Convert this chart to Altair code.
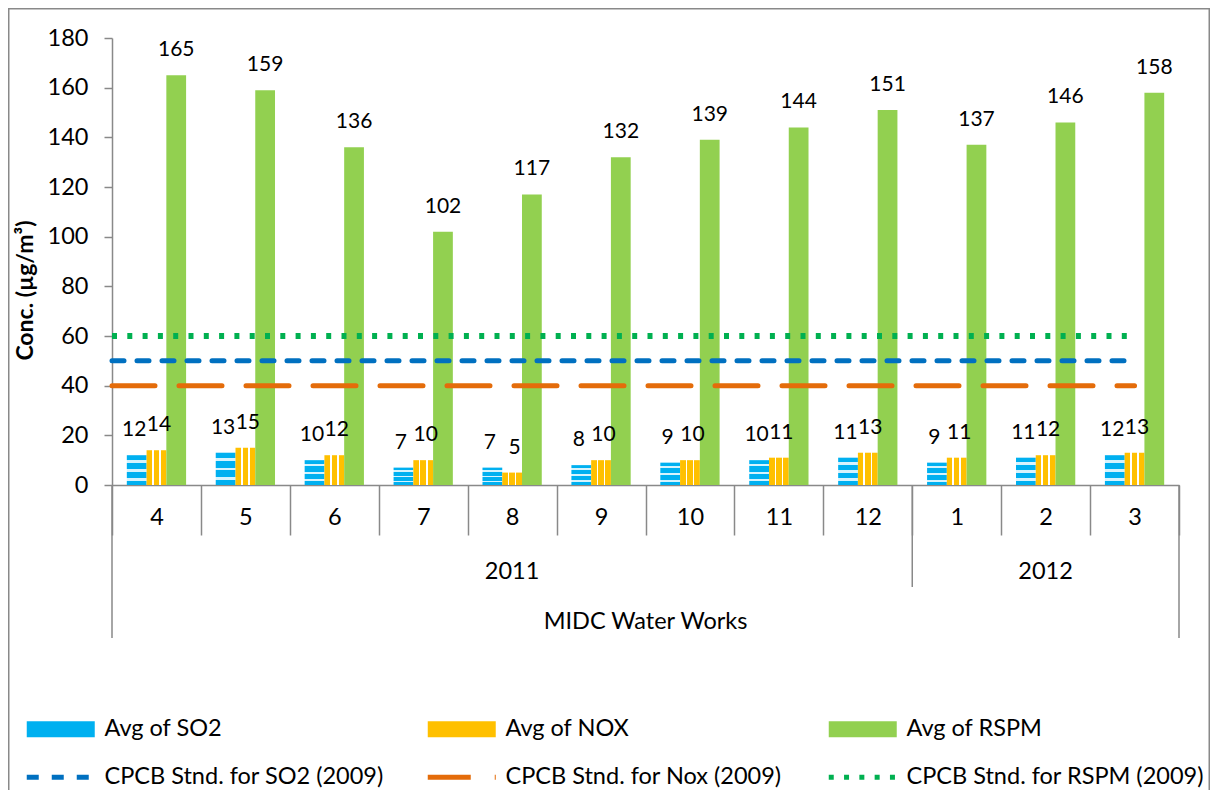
import altair as alt
import pandas as pd

# ---------------- data ----------------
months = ["4", "5", "6", "7", "8", "9", "10", "11", "12", "1", "2", "3"]
years = ["2011"] * 9 + ["2012"] * 3
site = "MIDC Water Works"
so2 = [12, 13, 10, 7, 7, 8, 9, 10, 11, 9, 11, 12]
nox = [14, 15, 12, 10, 5, 10, 10, 11, 13, 11, 12, 13]
rspm = [165, 159, 136, 102, 117, 132, 139, 144, 151, 137, 146, 158]
bar_names = ["Avg of SO2", "Avg of NOX", "Avg of RSPM"]
std_names = ["CPCB Stnd. for SO2 (2009)", "CPCB Stnd. for Nox (2009)", "CPCB Stnd. for RSPM (2009)"]
std_values = [50, 40, 60]
y_ticks = [0, 20, 40, 60, 80, 100, 120, 140, 160, 180]
y_title = "Conc. (µg/m³)"

# ---------------- styles ----------------
FONT = "Lato"
FS = 23.5
GRAY = "#898989"
bar_colors = ["#00B0F0", "#FFC000", "#92D050"]
std_colors = ["#0070C0", "#E46C0A", "#00B050"]
std_dashes = [[12, 13], [43, 24], [5, 10.3]]
label_nudge = [-2.5, 2.5, 0]
W, H = 1067, 447
PAD = {"left": 104, "top": 30, "right": 31, "bottom": 305}


def stripes(base, light, cuts, horizontal=True):
    stops, pos = [], 0.0
    for a, b in cuts:
        stops += [{"offset": pos, "color": base}, {"offset": a, "color": base},
                  {"offset": a, "color": light}, {"offset": b, "color": light}]
        pos = b
    stops += [{"offset": pos, "color": base}, {"offset": 1, "color": base}]
    return {"gradient": "linear", "x1": 0, "y1": 0,
            "x2": 1 if horizontal else 0, "y2": 0 if horizontal else 1, "stops": stops}


so2_bar = stripes(bar_colors[0], "#D6F3FD", [(0.16, 0.25), (0.46, 0.55), (0.76, 0.85)], horizontal=False)
nox_bar = stripes(bar_colors[1], "#FFFFFF", [(0.28, 0.36), (0.64, 0.72)])

# ---------------- tables ----------------
rows = []
for i, m in enumerate(months):
    for name, vals in zip(bar_names, [so2, nox, rspm]):
        rows.append({"month": m, "series": name, "value": vals[i]})
bar_df = pd.DataFrame(rows)

n = len(months)
std_df = pd.DataFrame({"label": std_names, "value": std_values,
                       "start": [0] * 3, "end": [n - 0.5] * 3})

spans = []
for yv in dict.fromkeys(years):
    idx = [i for i, v in enumerate(years) if v == yv]
    spans.append({"year": yv, "start": idx[0], "end": idx[-1] + 1,
                  "mid": (idx[0] + idx[-1] + 1) / 2})
span_df = pd.DataFrame(spans)
outer_df = pd.DataFrame({"pos": [0, n]})
inner_df = pd.DataFrame({"pos": [s["start"] for s in spans[1:]]})
site_df = pd.DataFrame({"site": [site], "mid": [n / 2]})
frame_df = pd.DataFrame({"frame": ["chart area"]})

# ---------------- legends ----------------
bar_legend = alt.Legend(
    title=None, orient="none", legendX=-89, legendY=679,
    direction="horizontal", columns=3, gridAlign="all", columnPadding=183,
    labelFont=FONT, labelFontSize=FS, labelColor="black", labelLimit=500,
    labelOffset=58, symbolSize=256, symbolType="M-1,-1H7.5V1H-1Z",
    symbolStrokeWidth=0, symbolOpacity=1,
)
line_legend = alt.Legend(
    title=None, orient="none", legendX=-89, legendY=727,
    direction="horizontal", columns=3, gridAlign="all", columnPadding=15,
    labelFont=FONT, labelFontSize=FS, labelColor="black", labelLimit=500,
    labelOffset=58, symbolSize=256, symbolType="M-1,0H7.5",
    symbolStrokeWidth=5, symbolOpacity=1,
)

# ---------------- encodings ----------------
y_enc = alt.Y("value:Q", scale=alt.Scale(domain=[0, 180], nice=False),
              axis=alt.Axis(values=y_ticks, title=y_title, grid=False, tickSize=8,
                            tickColor=GRAY, tickWidth=1.5, domainColor=GRAY, domainWidth=1.5,
                            labelFont=FONT, labelFontSize=FS, labelColor="black", labelPadding=16,
                            titleFont=FONT, titleFontSize=23, titleFontWeight="bold",
                            titleColor="black", titleX=-87, titleY=252,
                            titleBaseline="middle", titleAlign="center"))

x_band = alt.X("month:N", scale=alt.Scale(domain=months, paddingInner=0, paddingOuter=0),
               axis=alt.Axis(title=None, tickBand="extent", tickSize=50, tickColor=GRAY,
                             tickWidth=1.5, domainColor=GRAY, domainWidth=1.5, labelAngle=0,
                             labelFont=FONT, labelFontSize=FS, labelColor="black",
                             labelPadding=-30))
x_off = alt.XOffset("series:N", scale=alt.Scale(domain=bar_names, paddingInner=0, paddingOuter=0.75))

bars = alt.Chart(bar_df).mark_bar().encode(
    x=x_band, xOffset=x_off, y=y_enc,
    fill=alt.Fill("series:N", scale=alt.Scale(domain=bar_names, range=bar_colors), legend=bar_legend,
                  condition=[{"test": f"datum.series === '{bar_names[0]}'", "value": so2_bar},
                             {"test": f"datum.series === '{bar_names[1]}'", "value": nox_bar}]),
)
label_layers = [
    alt.Chart(bar_df).mark_text(font=FONT, fontSize=21, baseline="middle", dy=-25, dx=dx,
                                color="black").encode(
        x=x_band, xOffset=x_off, y=y_enc, text="value:Q",
    ).transform_filter(f"datum.series === '{name}'")
    for name, dx in zip(bar_names, label_nudge)
]

xq = alt.Scale(domain=[0, n], nice=False, zero=False)
std_stroke = alt.Stroke("label:N", scale=alt.Scale(domain=std_names, range=std_colors), legend=line_legend)
std_dash = alt.StrokeDash("label:N", scale=alt.Scale(domain=std_names, range=std_dashes), legend=line_legend)
std_round = alt.Chart(std_df).mark_rule(strokeCap="round", strokeWidth=5).encode(
    x=alt.X("start:Q", scale=xq, axis=None), x2="end:Q", y=y_enc,
    stroke=std_stroke, strokeDash=std_dash,
).transform_filter(f"datum.label !== '{std_names[2]}'")
std_dots = alt.Chart(std_df).mark_rule(strokeCap="butt", strokeWidth=6).encode(
    x=alt.X("start:Q", scale=xq, axis=None), x2="end:Q", y=y_enc,
    stroke=std_stroke, strokeDash=std_dash,
).transform_filter(f"datum.label === '{std_names[2]}'")

outer_rules = alt.Chart(outer_df).mark_rule(color=GRAY, strokeWidth=1.5).encode(
    x=alt.X("pos:Q", scale=xq, axis=None), y=alt.value(H), y2=alt.value(600))
inner_rules = alt.Chart(inner_df).mark_rule(color=GRAY, strokeWidth=1.5).encode(
    x=alt.X("pos:Q", scale=xq, axis=None), y=alt.value(H), y2=alt.value(549))
year_text = alt.Chart(span_df).mark_text(font=FONT, fontSize=FS, color="black", baseline="middle").encode(
    x=alt.X("mid:Q", scale=xq, axis=None), y=alt.value(534), text="year:N")
site_text = alt.Chart(site_df).mark_text(font=FONT, fontSize=FS, color="black", baseline="middle").encode(
    x=alt.X("mid:Q", scale=xq, axis=None), y=alt.value(584), text="site:N")

# chart-area frame (Excel style border around the whole chart)
frame = alt.Chart(frame_df).mark_rect(fill=None, stroke=GRAY, strokeWidth=1.5).encode(
    x=alt.value(-PAD["left"] + 0.75), x2=alt.value(W + PAD["right"] - 0.75),
    y=alt.value(-PAD["top"] + 0.75), y2=alt.value(H + PAD["bottom"] + 20))

main = alt.layer(bars, *label_layers)
annot = alt.layer(std_round, std_dots, outer_rules, inner_rules, year_text, site_text, frame)

chart = alt.layer(main, annot).resolve_scale(x="independent").properties(
    width=W, height=H, autosize="none", padding=PAD,
).configure_view(stroke=None)

chart.save("out.html", embed_options={"renderer": "svg", "actions": False})
